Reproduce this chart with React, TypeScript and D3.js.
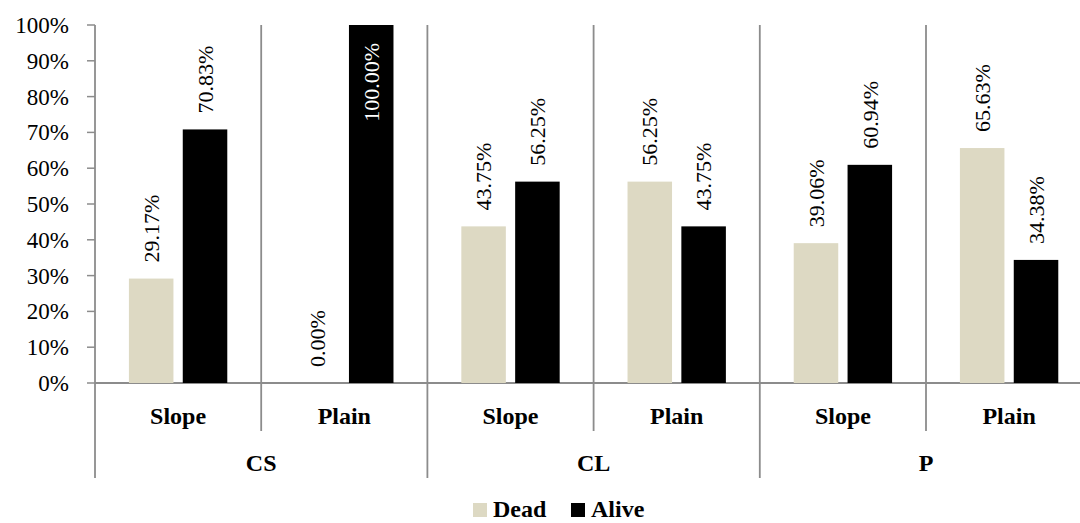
import React from 'react';
import * as d3 from 'd3';

const groups = ['CS', 'CL', 'P'];
const terrains = ['Slope', 'Plain'];
const seriesNames = ['Dead', 'Alive'];
const deadValues = [29.17, 0.0, 43.75, 56.25, 39.06, 65.63];
const aliveValues = [70.83, 100.0, 56.25, 43.75, 60.94, 34.38];
const yTicks = [0, 10, 20, 30, 40, 50, 60, 70, 80, 90, 100];

const colors: Record<string, string> = { Dead: '#DDD9C3', Alive: '#000000' };
const gridColor = '#8C8C8C';
const font =
	"'Times New Roman', Times, 'Liberation Serif', Tinos, 'Noto Serif', 'DejaVu Serif', FreeSerif, serif";

const W = 1080;
const H = 523;
const left = 95;
const top = 25;
const bottom = 383;
const catStep = 166.2;

const textStyle: React.CSSProperties = { fontFamily: font };

const App: React.FC = () => {
	const cats = groups.flatMap((g) => terrains.map((t) => `${g}|${t}`));
	const rows = cats.map((c, i) => ({
		key: c,
		group: c.split('|')[0],
		terrain: c.split('|')[1],
		Dead: deadValues[i],
		Alive: aliveValues[i],
	}));

	const x = d3
		.scaleBand()
		.domain(cats)
		.range([left, left + catStep * cats.length])
		.padding(0);
	const xInner = d3
		.scaleBand()
		.domain(seriesNames)
		.range([0, x.bandwidth()])
		.paddingInner(0.173)
		.paddingOuter(0.63);
	const y = d3.scaleLinear().domain([0, 100]).range([bottom, top]);

	const boundaries = d3.range(cats.length + 1).map((i) => left + i * x.step());

	return (
		<svg
			width={W}
			height={H}
			style={{ position: 'absolute', left: 0, top: 0, background: '#fff', fontFamily: font }}>
			{/* vertical lines between categories */}
			{boundaries.map((bx, i) => {
				const isGroupEdge = i % 2 === 0;
				return (
					<line
						key={`v${i}`}
						x1={bx}
						x2={bx}
						y1={top}
						y2={isGroupEdge ? 478 : 431}
						stroke={gridColor}
						strokeWidth={1.8}
					/>
				);
			})}
			{/* baseline */}
			<line x1={left} x2={W} y1={bottom} y2={bottom} stroke={gridColor} strokeWidth={1.8} />
			{/* y ticks */}
			{yTicks.map((t) => (
				<g key={`t${t}`}>
					<line x1={left - 8} x2={left} y1={y(t)} y2={y(t)} stroke={gridColor} strokeWidth={1.5} />
					<text x={69} y={y(t)} dy="0.35em" textAnchor="end" fontSize={23} fill="#000" style={textStyle}>
						{`${t}%`}
					</text>
				</g>
			))}
			{/* bars */}
			{rows.map((r) =>
				seriesNames.map((s) => {
					const v = (r as any)[s] as number;
					const bx = (x(r.key) ?? 0) + (xInner(s) ?? 0);
					const bw = xInner.bandwidth();
					const inside = v > 90;
					const cx = bx + bw / 2;
					const ly = inside ? y(v) + 18 : y(v) - 16;
					return (
						<g key={`${r.key}-${s}`}>
							<rect x={bx} y={y(v)} width={bw} height={bottom - y(v)} fill={colors[s]} />
							<text
								transform={`translate(${cx},${ly}) rotate(-90)`}
								dy="0.35em"
								textAnchor={inside ? 'end' : 'start'}
								fontSize={22}
								fill={inside ? '#fff' : '#000'}
								style={textStyle}>
								{`${v.toFixed(2)}%`}
							</text>
						</g>
					);
				}),
			)}
			{/* terrain labels */}
			{rows.map((r) => (
				<text
					key={`l${r.key}`}
					x={(x(r.key) ?? 0) + x.bandwidth() / 2}
					y={424}
					textAnchor="middle"
					fontSize={24}
					fontWeight="bold"
					style={textStyle}>
					{r.terrain}
				</text>
			))}
			{/* group labels */}
			{groups.map((g, i) => (
				<text
					key={`g${g}`}
					x={left + (i * 2 + 1) * x.step()}
					y={471}
					textAnchor="middle"
					fontSize={24}
					fontWeight="bold"
					style={textStyle}>
					{g}
				</text>
			))}
			{/* legend */}
			<rect x={473} y={503} width={14} height={14} fill={colors.Dead} />
			<text x={493} y={517} fontSize={24} fontWeight="bold" style={textStyle}>
				Dead
			</text>
			<rect x={571} y={503} width={14} height={14} fill={colors.Alive} />
			<text x={591} y={517} fontSize={24} fontWeight="bold" style={textStyle}>
				Alive
			</text>
		</svg>
	);
};

export default App;
